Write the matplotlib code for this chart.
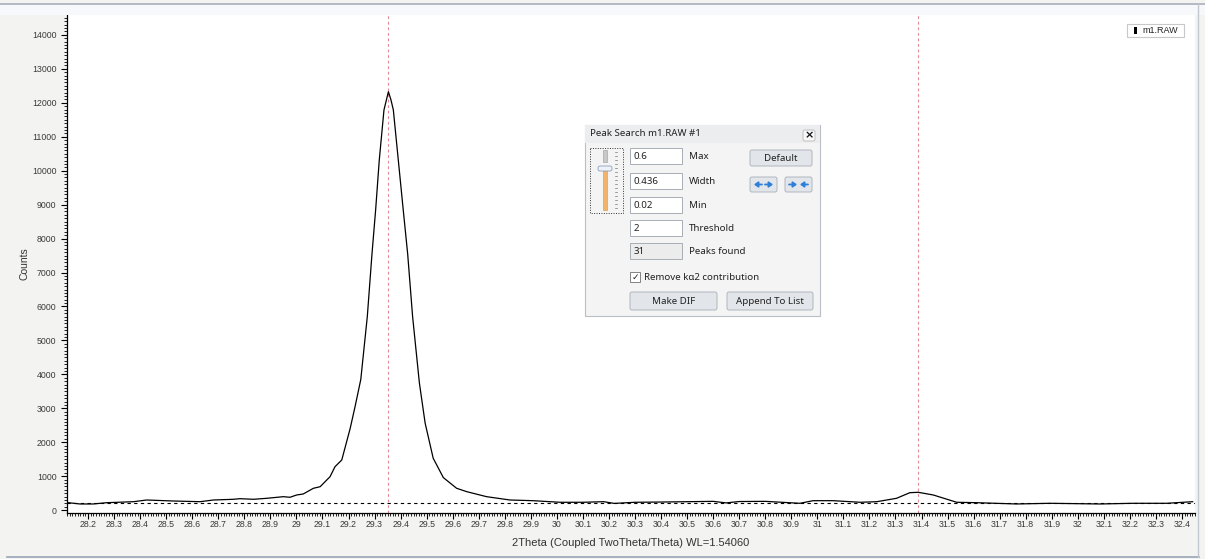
import matplotlib
matplotlib.use("Agg")
import matplotlib.pyplot as plt
from matplotlib.patches import Rectangle, FancyBboxPatch
from matplotlib.ticker import MultipleLocator, FuncFormatter

# scan data: 2theta (deg) and counts
two_theta = [
    28.124, 28.169, 28.220, 28.272, 28.374, 28.425, 28.526, 28.630, 28.681,
    28.758, 28.783, 28.835, 28.886, 28.950, 28.975, 29.001, 29.026, 29.065,
    29.091, 29.129, 29.148, 29.174, 29.206, 29.225, 29.247, 29.272, 29.290,
    29.304, 29.318, 29.336, 29.353, 29.363, 29.372, 29.391, 29.410, 29.427,
    29.446, 29.472, 29.494, 29.525, 29.564, 29.615, 29.654, 29.730, 29.820,
    29.908, 30.012, 30.100, 30.180, 30.220, 30.300, 30.400, 30.500, 30.600,
    30.650, 30.700, 30.800, 30.933, 30.984, 31.061, 31.164, 31.228, 31.304,
    31.355, 31.387, 31.445, 31.535, 31.611, 31.765, 31.893, 32.085, 32.212,
    32.341, 32.441,
]
counts = [
    221, 183, 183, 221, 250, 300, 271, 250, 300,
    321, 339, 321, 350, 398, 380, 448, 477, 645,
    692, 987, 1281, 1479, 2400, 3050, 3850, 5700, 7550,
    8843, 10315, 11788, 12327, 12082, 11788, 10315, 8843, 7550,
    5700, 3747, 2568, 1530, 960, 645, 545, 398, 300,
    280, 233, 233, 250, 200, 233, 240, 250, 260,
    215, 255, 260, 203, 280, 280, 233, 250, 350,
    515, 527, 448, 233, 221, 183, 203, 183, 203,
    203, 250,
]
peak_positions = [29.353, 31.387]
background_level = 210
scan_name = "m1.RAW"

fig = plt.figure(figsize=(12.05, 5.59), dpi=100, facecolor="#f3f3f1")
ax = fig.add_axes([67 / 1205, 1 - 512.7 / 559, (1195 - 67) / 1205, (512.7 - 15) / 559])
ax.set_facecolor("white")

ax.plot(two_theta, counts, color="black", lw=0.9, zorder=3)
ax.axhline(background_level, color="black", lw=0.8, ls=(0, (3, 3)), zorder=2)
for p in peak_positions:
    ax.axvline(p, color="#e58a98", lw=0.8, ls=(0, (2.5, 2.5)), zorder=2)

ax.set_xlim(28.119, 32.45)
ax.set_ylim(-74, 14586)

ax.xaxis.set_major_locator(MultipleLocator(0.1))
ax.xaxis.set_minor_locator(MultipleLocator(0.01))
ax.yaxis.set_major_locator(MultipleLocator(1000))
ax.yaxis.set_minor_locator(MultipleLocator(100))
ax.xaxis.set_major_formatter(FuncFormatter(lambda v, _: f"{round(v, 1):g}"))
ax.yaxis.set_major_formatter(FuncFormatter(lambda v, _: f"{int(round(v))}"))

ax.tick_params(which="major", length=4.5, width=0.8, labelsize=6.3,
               labelcolor="#3a3a3a", direction="out", pad=3)
ax.tick_params(axis="x", which="major", length=4, pad=1)
ax.tick_params(which="minor", length=2, width=0.6, direction="out")
for lab in ax.get_xticklabels() + ax.get_yticklabels():
    lab.set_family("Liberation Sans")

for side in ["top", "right"]:
    ax.spines[side].set_visible(False)
for side in ["left", "bottom"]:
    ax.spines[side].set_linewidth(0.9)

ax.set_xlabel("2Theta (Coupled TwoTheta/Theta) WL=1.54060", fontsize=8,
              family="Liberation Sans", color="#333333", labelpad=7)
ax.set_ylabel("Counts", fontsize=7.5, family="Liberation Sans",
              color="#333333", labelpad=2)

# overlay in pixel coordinates for the window frame, legend and peak search panel
ov = fig.add_axes([0, 0, 1, 1], zorder=10)
ov.set_xlim(0, 1205)
ov.set_ylim(559, 0)
ov.axis("off")

ov.add_patch(Rectangle((0, 4), 1205, 11, facecolor="#f6f8fb", edgecolor="none"))
ov.plot([0, 1205], [4, 4], color="#a9afba", lw=1.2)
ov.plot([7, 1199], [557, 557], color="#9aa4b6", lw=1.2)
ov.plot([1198, 1198], [4, 557], color="#c3c8d0", lw=1.0)

# legend
ov.add_patch(Rectangle((1127, 24), 57, 13, facecolor="white", edgecolor="#c8c8c8", lw=0.8))
ov.add_patch(Rectangle((1134, 27), 2.5, 7, facecolor="black", edgecolor="none"))
ov.text(1142, 30.5, scan_name, fontsize=6.5, family="Liberation Sans",
        va="center", ha="left", color="#222222")

# peak search panel
font = dict(family="Noto Sans", fontsize=7, color="#222222")
ov.add_patch(Rectangle((585, 125), 235, 191, facecolor="#f4f4f4", edgecolor="#b9bec7", lw=0.8))
ov.add_patch(Rectangle((585, 125), 235, 18, facecolor="#ecedef", edgecolor="none"))
ov.text(590, 134, "Peak Search m1.RAW #1", va="center", ha="left", **font)
ov.add_patch(FancyBboxPatch((803, 130), 12, 11, boxstyle="round,pad=0,rounding_size=2",
                            facecolor="#f7f7f7", edgecolor="#b8b8b8", lw=0.6))
ov.text(809, 135.5, "×", va="center", ha="center", fontsize=8, weight="bold",
        family="DejaVu Sans", color="#111111")

# slider
ov.add_patch(Rectangle((590, 148), 33, 65, facecolor="none", edgecolor="#333333",
                       lw=0.7, ls=(0, (1, 1.5))))
ov.add_patch(Rectangle((603, 150), 4, 12, facecolor="#c8c8c8", edgecolor="#a8a8a8", lw=0.5))
ov.add_patch(Rectangle((603, 170), 4, 40, facecolor="#f2b46a", edgecolor="#e0a050", lw=0.5))
ov.add_patch(FancyBboxPatch((598, 166), 14, 5, boxstyle="round,pad=0,rounding_size=2",
                            facecolor="#eef2f8", edgecolor="#8aa0bb", lw=0.6))
for ty in range(152, 210, 4):
    ov.plot([615, 617], [ty, ty], color="#777777", lw=0.5)

fields = [("0.6", "Max", 148), ("0.436", "Width", 173), ("0.02", "Min", 197),
          ("2", "Threshold", 220), ("31", "Peaks found", 243)]
for val, name, top in fields:
    face = "#ececec" if name == "Peaks found" else "white"
    ov.add_patch(Rectangle((630, top), 52, 16, facecolor=face, edgecolor="#a8adb5", lw=0.7))
    ov.text(634, top + 8.5, val, va="center", ha="left", **font)
    ov.text(689, top + 8.5, name, va="center", ha="left", **font)

# checkbox
ov.add_patch(Rectangle((630, 272), 10, 10, facecolor="white", edgecolor="#707070", lw=0.6))
ov.text(635, 277, "✓", va="center", ha="center", fontsize=6.5, family="DejaVu Sans", color="#222222")
ov.text(644, 277, "Remove kα2 contribution", va="center", ha="left", **font)

# buttons
def button(x, y, w, h, label):
    ov.add_patch(FancyBboxPatch((x, y), w, h, boxstyle="round,pad=0,rounding_size=2",
                                facecolor="#e2e5ea", edgecolor="#b0b6bf", lw=0.7))
    if label:
        ov.text(x + w / 2, y + h / 2 + 0.5, label, va="center", ha="center", **font)

def arrow(x0, x1, y):
    ov.annotate("", xy=(x1, y), xytext=(x0, y),
                arrowprops=dict(arrowstyle="-|>,head_length=0.22,head_width=0.16",
                                color="#2d7fd8", lw=1.3, shrinkA=0, shrinkB=0))

button(750, 150, 62, 16, "Default")
button(630, 292, 87, 18, "Make DIF")
button(727, 292, 86, 18, "Append To List")
button(750, 177, 27, 15, "")
button(785, 177, 27, 15, "")
arrow(762, 754, 184.5)
arrow(765, 773, 184.5)
arrow(789, 797, 184.5)
arrow(808, 800, 184.5)

fig.savefig("out.png", dpi=100, facecolor=fig.get_facecolor())
